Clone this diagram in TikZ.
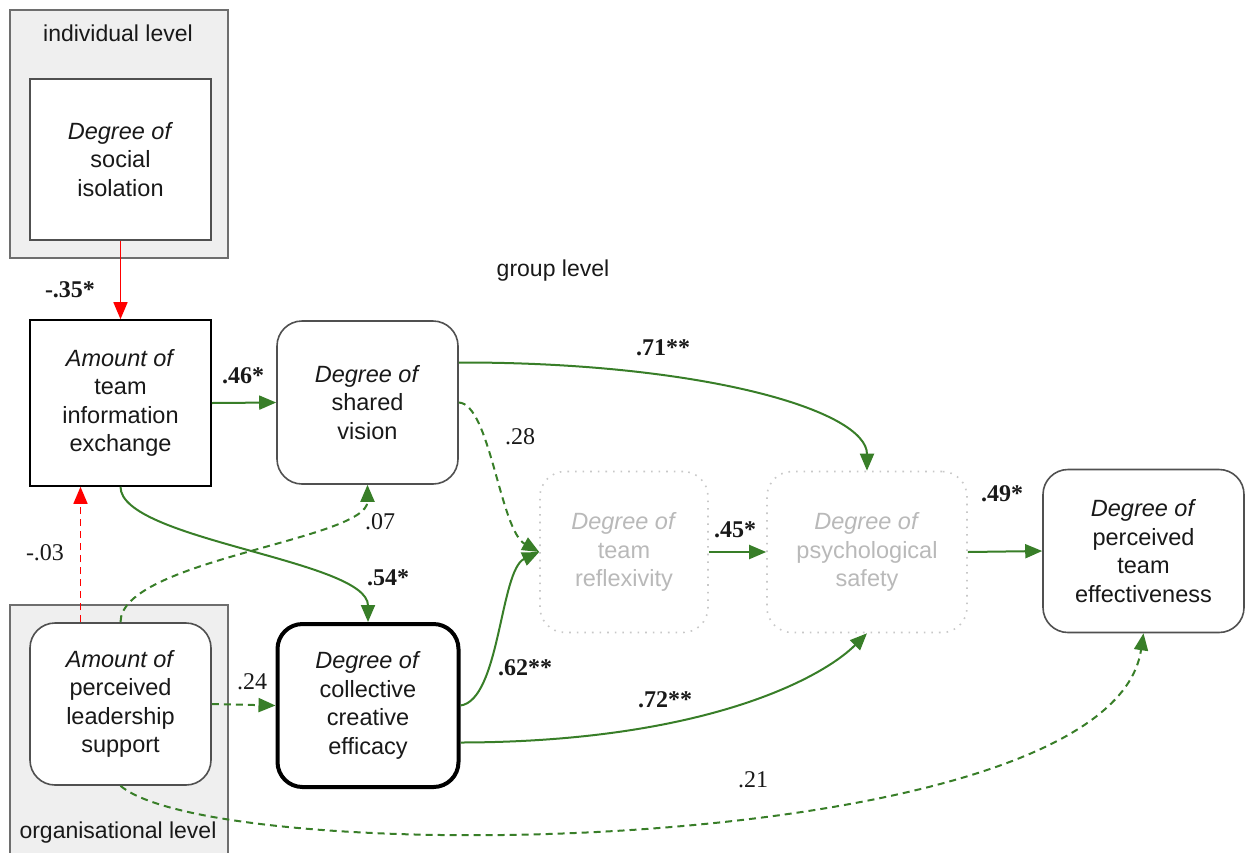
\documentclass[tikz,border=0pt]{standalone}
\usepackage{fontspec}
\setmainfont{Liberation Serif}
\setsansfont{Liberation Sans}
\usetikzlibrary{arrows.meta,calc}
\definecolor{gr}{RGB}{56,126,40}
\definecolor{rd}{RGB}{255,0,0}
\definecolor{lvlfill}{RGB}{239,239,239}
\definecolor{lvlline}{RGB}{110,110,110}
\definecolor{boxline}{RGB}{80,80,80}
\definecolor{txt}{RGB}{25,25,25}
\definecolor{ghostline}{RGB}{200,200,200}
\definecolor{ghosttext}{RGB}{185,185,185}
\begin{document}
\begin{tikzpicture}[x=1pt,y=-1pt,
  lvl/.style={draw=lvlline, fill=lvlfill, line width=1.3pt},
  lvltext/.style={font=\sffamily\fontsize{23}{27}\selectfont, text=txt, inner sep=0pt},
  box/.style={draw=boxline, line width=1.6pt, fill=white, align=center,
    font=\sffamily\fontsize{23.5}{28.5}\selectfont, text=txt, inner sep=0pt},
  rbox/.style={box, rounded corners=25pt},
  ghost/.style={rbox, draw=ghostline, line width=1.6pt, dash pattern=on 1.6pt off 6pt, text=ghosttext},
  lab/.style={font=\bfseries\fontsize{24}{24}\selectfont, text=txt, inner sep=0pt},
  labn/.style={font=\fontsize{24}{24}\selectfont, text=txt, inner sep=0pt},
  tip/.style={-{Triangle[length=17pt,width=14pt]}},
  garrow/.style={draw=gr, line width=2pt, tip},
  rarrow/.style={draw=rd, line width=1.6pt, tip},
  dsh/.style={dash pattern=on 7pt off 5pt}
]
\useasboundingbox (0,0) rectangle (1246,852);

% level frames
\node[lvl, minimum width=218pt, minimum height=248pt, inner sep=0pt] (indframe) at (119,134) {};
\node[lvltext] (indlabel) at (118,33) {individual level};
\draw[lvl] (10,605) rectangle (228,870);
\node[lvltext] (orglabel) at (118,833) {organisational level};
\node[lvltext] (grouplabel) at (553,271) {group level};

% boxes
\node[box, minimum width=181pt, minimum height=161pt] (iso) at (120.5,159.5)
  {\textit{Degree of}\\social\\isolation};
\node[box, draw=black, minimum width=181pt, minimum height=166pt] (info) at (120.5,403)
  {\textit{Amount of}\\team\\information\\exchange};
\node[rbox, minimum width=181pt, minimum height=163pt] (vision) at (367.5,402.5)
  {\textit{Degree of}\\shared\\vision};
\node[ghost, minimum width=168pt, minimum height=161pt] (reflex) at (624,552)
  {\textit{Degree of}\\team\\reflexivity};
\node[ghost, minimum width=200pt, minimum height=161pt] (psych) at (867,552)
  {\textit{Degree of}\\psychological\\safety};
\node[rbox, minimum width=201pt, minimum height=163pt] (eff) at (1143.5,551)
  {\textit{Degree of}\\perceived\\team\\effectiveness};
\node[rbox, minimum width=181pt, minimum height=162pt] (lead) at (120.5,704)
  {\textit{Amount of}\\perceived\\leadership\\support};
\node[rbox, draw=black, line width=4pt, minimum width=181pt, minimum height=163pt] (cce) at (368,705.5)
  {\textit{Degree of}\\collective\\creative\\efficacy};

% connectors
\draw[rarrow] (iso.south) -- (info.north);
\draw[rarrow, dsh] ($(lead.north)+(-40,0)$) -- ($(info.south)+(-40,0)$);
\draw[garrow] (info.east) -- (vision.west);
\draw[garrow] ($(vision.east)+(0,-40)$) .. controls (700,362) and (867,410) .. (psych.north);
\draw[garrow, dsh] (vision.east) .. controls (490,404) and (500,530) .. (reflex.west);
\draw[garrow] (info.south) .. controls (120.5,540) and (368,560) .. (cce.north);
\draw[garrow, dsh] (lead.north) .. controls (120.5,560) and (367.5,540) .. (vision.south);
\draw[garrow, dsh] (lead.east) -- (cce.west);
\draw[garrow] (cce.east) .. controls (500,700) and (500,570) .. (reflex.west);
\draw[garrow] ($(cce.east)+(0,37)$) .. controls (700,742) and (820,680) .. (psych.south);
\draw[garrow] (reflex.east) -- (psych.west);
\draw[garrow] (psych.east) -- (eff.west);
\draw[garrow, dsh] (lead.south) .. controls (220,870) and (1110,860) .. (eff.south);

% coefficient labels
\node[lab] (l35) at (70,290) {-.35*};
\node[lab] (l46) at (243,376) {.46*};
\node[lab] (l71) at (663,348) {.71**};
\node[labn] (l28) at (520,437) {.28};
\node[labn] (l07) at (380,522) {.07};
\node[lab] (l54) at (388,578) {.54*};
\node[labn] (l03) at (45,553) {-.03};
\node[labn] (l24) at (252,682) {.24};
\node[lab] (l62) at (525,668) {.62**};
\node[lab] (l72) at (665,700) {.72**};
\node[lab] (l45) at (735,530) {.45*};
\node[lab] (l49) at (1002,494) {.49*};
\node[labn] (l21) at (753,780) {.21};
\end{tikzpicture}
\end{document}
